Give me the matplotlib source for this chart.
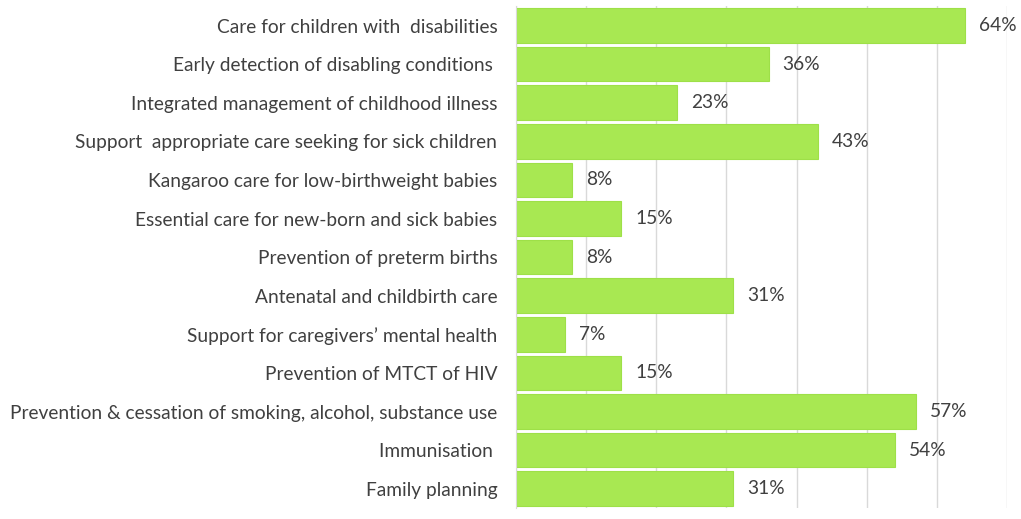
import numpy as np
import matplotlib.pyplot as plt

# Datos del gráfico (de arriba hacia abajo)
categorias = [
    "Care for children with  disabilities",
    "Early detection of disabling conditions ",
    "Integrated management of childhood illness",
    "Support  appropriate care seeking for sick children",
    "Kangaroo care for low-birthweight babies",
    "Essential care for new-born and sick babies",
    "Prevention of preterm births",
    "Antenatal and childbirth care",
    "Support for caregivers\u2019 mental health",
    "Prevention of MTCT of HIV",
    "Prevention & cessation of smoking, alcohol, substance use",
    "Immunisation ",
    "Family planning",
]
valores = [64, 36, 23, 43, 8, 15, 8, 31, 7, 15, 57, 54, 31]

plt.rcParams['font.family'] = ['Lato', 'DejaVu Sans']

fig = plt.figure(figsize=(10.21, 5.19), dpi=100)
ax = fig.add_axes([0.5054, 0.0212, 0.4809, 0.9668])

y = np.arange(len(categorias))
ax.barh(y, valores, height=0.9, color='#a8e852', edgecolor='#9ee048', linewidth=0.8, zorder=2)

for yi, v in zip(y, valores):
    ax.text(v + 2.0, yi, f"{v}%", va='center', ha='left', fontsize=13.8, color='#404040')

ax.set_yticks(y)
ax.set_yticklabels(categorias, fontsize=13.8, color='#404040')
ax.tick_params(axis='y', length=0, pad=13.5)
ax.set_ylim(len(categorias) - 0.5, -0.5)

ax.set_xlim(0, 70)
ax.set_xticks(np.arange(0, 71, 10))
ax.tick_params(axis='x', length=0, labelbottom=False)
ax.grid(axis='x', color='#d9d9d9', linewidth=1, zorder=0)

for s in ['top', 'right', 'bottom']:
    ax.spines[s].set_visible(False)
ax.spines['left'].set_color('#d9d9d9')

fig.savefig('out.png', dpi=100)
